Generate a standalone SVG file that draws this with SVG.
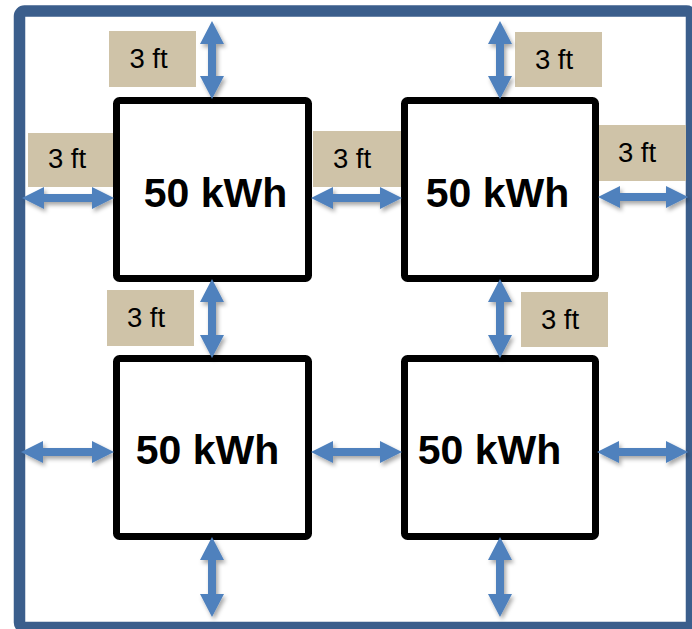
<svg xmlns="http://www.w3.org/2000/svg" width="692" height="629" viewBox="0 0 692 629">
  <defs>
    <filter id="sh" x="-30%" y="-30%" width="160%" height="160%">
      <feDropShadow dx="2" dy="3" stdDeviation="2" flood-color="#000" flood-opacity="0.35"/>
    </filter>
    <style>
      .frame{fill:#fff;stroke:#3b5e8c;stroke-width:11.5}
      .box{fill:#fff;stroke:#000;stroke-width:7}
      .lab{fill:#cfc3a8}
      .lt{font-family:"Liberation Sans",Arial,sans-serif;font-size:27.5px;fill:#000;text-anchor:middle}
      .bt{font-family:"Liberation Sans",Arial,sans-serif;font-size:41px;font-weight:bold;fill:#000;text-anchor:middle}
      .arr{fill:#4f81bd;filter:url(#sh)}
    </style>
  </defs>
  <rect class="frame" x="19.5" y="11" width="672" height="616.5" rx="5"/>

  <g id="labels">
    <g id="label1"><rect class="lab" x="109" y="31" width="87" height="56"/><text class="lt" x="148.5" y="68">3 ft</text></g>
    <g id="label2"><rect class="lab" x="28" y="133" width="87" height="54"/><text class="lt" x="67" y="168">3 ft</text></g>
    <g id="label3"><rect class="lab" x="313" y="131" width="88" height="56"/><text class="lt" x="352" y="168">3 ft</text></g>
    <g id="label4"><rect class="lab" x="515" y="32" width="87" height="55"/><text class="lt" x="554" y="69">3 ft</text></g>
    <g id="label5"><rect class="lab" x="598" y="125" width="88" height="56"/><text class="lt" x="637" y="162">3 ft</text></g>
    <g id="label6"><rect class="lab" x="107" y="290" width="87" height="56"/><text class="lt" x="146" y="327">3 ft</text></g>
    <g id="label7"><rect class="lab" x="521" y="292" width="87" height="55"/><text class="lt" x="560" y="329">3 ft</text></g>
  </g>

  <g id="box1"><rect class="box" x="116.5" y="100.5" width="192" height="178" rx="3"/><text class="bt" x="215.5" y="207">50 kWh</text></g>
  <g id="box2"><rect class="box" x="404.5" y="100.5" width="191" height="178" rx="3"/><text class="bt" x="497.5" y="207">50 kWh</text></g>
  <g id="box3"><rect class="box" x="116.5" y="358.5" width="192" height="178" rx="3"/><text class="bt" x="207.5" y="464">50 kWh</text></g>
  <g id="box4"><rect class="box" x="404.5" y="358.5" width="191" height="178" rx="3"/><text class="bt" x="489.5" y="464">50 kWh</text></g>

  <g id="connectors">
    <polygon class="arr" points="22,198 44,187 44,194 92,194 92,187 114,198 92,209 92,202 44,202 44,209"/>
    <polygon class="arr" points="311,198 333,187 333,194 380,194 380,187 402,198 380,209 380,202 333,202 333,209"/>
    <polygon class="arr" points="598,197 620,186 620,193 666,193 666,186 688,197 666,208 666,201 620,201 620,208"/>
    <polygon class="arr" points="21,452 43,441 43,448 92,448 92,441 114,452 92,463 92,456 43,456 43,463"/>
    <polygon class="arr" points="311,452 333,441 333,448 380,448 380,441 402,452 380,463 380,456 333,456 333,463"/>
    <polygon class="arr" points="597,452 619,441 619,448 666,448 666,441 688,452 666,463 666,456 619,456 619,463"/>
    <polygon class="arr" points="212,21 224,44 216,44 216,76 224,76 212,99 200,76 208,76 208,44 200,44"/>
    <polygon class="arr" points="500,21 512,44 504,44 504,76 512,76 500,99 488,76 496,76 496,44 488,44"/>
    <polygon class="arr" points="212,279 224,302 216,302 216,335 224,335 212,358 200,335 208,335 208,302 200,302"/>
    <polygon class="arr" points="500,279 512,302 504,302 504,335 512,335 500,358 488,335 496,335 496,302 488,302"/>
    <polygon class="arr" points="212,537 224,560 216,560 216,594 224,594 212,617 200,594 208,594 208,560 200,560"/>
    <polygon class="arr" points="500,537 512,560 504,560 504,594 512,594 500,617 488,594 496,594 496,560 488,560"/>
  </g>
</svg>
